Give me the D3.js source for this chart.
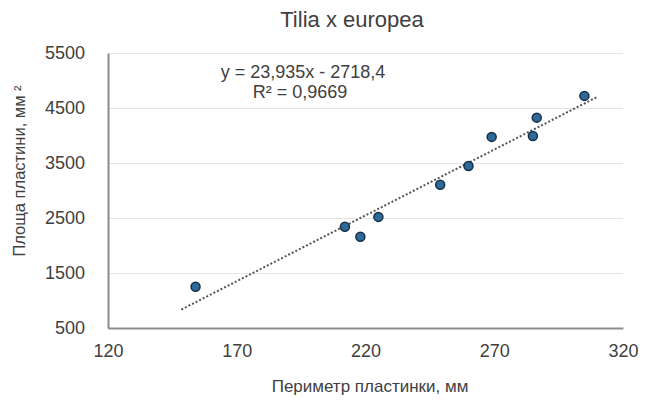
<!DOCTYPE html>
<html>
<head>
<meta charset="utf-8">
<script src="https://cdn.jsdelivr.net/npm/d3@7"></script>
<style>
  body { margin: 0; background: #fff; }
  text { font-family: "Liberation Sans", Arial, sans-serif; fill: #404040; }
</style>
</head>
<body>
<div id="chart"></div>
<script>
// leaf perimeter (mm) vs leaf area (mm2)
var perimeter = [154, 212, 218, 225, 249, 260, 269, 285, 286.5, 305];
var area = [1250, 2340, 2160, 2520, 3105, 3445, 3975, 3990, 4325, 4720];
var xTicks = [120, 170, 220, 270, 320];
var yTicks = [500, 1500, 2500, 3500, 4500, 5500];
// linear trend from the equation on the chart
var slope = 23.935, intercept = -2718.4;
var trendRange = [148.5, 310];

var margin = { top: 53, right: 23, bottom: 75, left: 108 };
var W = 646, H = 403;
var width = W - margin.left - margin.right;
var height = H - margin.top - margin.bottom;

var svg = d3.select('#chart').append('svg')
    .attr('width', W)
    .attr('height', H);

var chart = svg.append('g')
    .attr('transform', 'translate(' + margin.left + ',' + margin.top + ')');

var xScale = d3.scaleLinear().domain([120, 320]).range([0, width]);
var yScale = d3.scaleLinear().domain([500, 5500]).range([height, 0]);

// horizontal gridlines
chart.append('g')
    .attr('class', 'grid')
    .call(d3.axisLeft(yScale).tickValues(yTicks).tickSize(-width).tickFormat(''))
    .call(function (g) { g.select('.domain').remove(); })
    .selectAll('line')
    .attr('stroke', '#e4e4e4')
    .attr('stroke-width', 1);

// axes
var yAxis = chart.append('g')
    .call(d3.axisLeft(yScale).tickValues(yTicks).tickSize(0).tickPadding(23).tickFormat(d3.format('d')));
var xAxis = chart.append('g')
    .attr('transform', 'translate(0,' + height + ')')
    .call(d3.axisBottom(xScale).tickValues(xTicks).tickSize(0).tickPadding(16).tickFormat(d3.format('d')));

[xAxis, yAxis].forEach(function (ax) {
    ax.select('.domain').attr('stroke', '#8c8c8c').attr('stroke-width', 2);
    ax.selectAll('text')
        .style('font-family', '"Liberation Sans", Arial, sans-serif')
        .style('font-size', '18px')
        .attr('fill', '#404040');
});

// trendline
chart.append('line')
    .attr('x1', xScale(trendRange[0]))
    .attr('y1', yScale(slope * trendRange[0] + intercept))
    .attr('x2', xScale(trendRange[1]))
    .attr('y2', yScale(slope * trendRange[1] + intercept))
    .attr('stroke', '#555')
    .attr('stroke-width', 2)
    .attr('stroke-dasharray', '2,2');

// points
chart.selectAll('circle.pt')
    .data(perimeter.map(function (p, i) { return { x: p, y: area[i] }; }))
    .enter().append('circle')
    .attr('class', 'pt')
    .attr('cx', function (d) { return xScale(d.x); })
    .attr('cy', function (d) { return yScale(d.y); })
    .attr('r', 4.5)
    .attr('fill', '#2a6b9c')
    .attr('stroke', '#1a2e44')
    .attr('stroke-width', 1.5);

// title
svg.append('text')
    .attr('x', 352).attr('y', 27)
    .attr('text-anchor', 'middle')
    .style('font-size', '22px')
    .text('Tilia x europea');

// equation
svg.append('text')
    .attr('x', 303).attr('y', 78)
    .attr('text-anchor', 'middle')
    .style('font-size', '18px')
    .text('y = 23,935x - 2718,4');
svg.append('text')
    .attr('x', 300).attr('y', 98)
    .attr('text-anchor', 'middle')
    .style('font-size', '18px')
    .text('R² = 0,9669');

// axis titles
svg.append('text')
    .attr('x', 370).attr('y', 392)
    .attr('text-anchor', 'middle')
    .style('font-size', '17px')
    .text('Периметр пластинки, мм');

svg.append('text')
    .attr('transform', 'translate(25,171) rotate(-90)')
    .attr('text-anchor', 'middle')
    .style('font-size', '16.5px')
    .text('Площа пластини, мм ²');
</script>
</body>
</html>
